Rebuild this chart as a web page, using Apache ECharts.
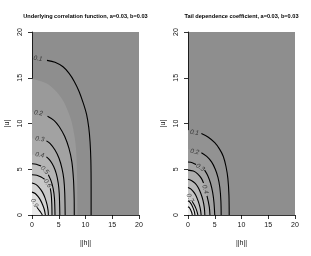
<!DOCTYPE html>
<html><head><meta charset="utf-8">
<script src="https://cdn.jsdelivr.net/npm/echarts@6/dist/echarts.min.js"></script>
<style>html,body{margin:0;padding:0;background:#fff}#c{width:311px;height:256px}</style>
</head><body><div id="c"></div>
<script>
// ---------- data ----------
const titles = ['Underlying correlation function, a=0.03, b=0.03', 'Tail dependence coefficient, a=0.03, b=0.03'];
const xName = '||h||';
const yName = '|u|';
const axisRange = [0, 20];
const axisStep = 5;
const levels = ['0.1','0.2','0.3','0.4','0.5','0.6','0.7','0.8','0.9'];

// left panel contour lines ([||h||, |u|]; null = gap under a label)
const L01 = [[0,17.3],null,[2.8,16.9],[4.3,16.7],[5.8,16.2],[6.9,15.5],[7.9,14.6],[8.8,13.5],[9.6,12.2],[10.2,11.0],[10.6,9.6],[10.85,8.0],[11.0,6.0],[11.05,3.0],[11.05,0]];
const L02 = [[0,11.3],null,[2.9,10.8],[4.1,10.35],[5.1,9.65],[6.1,8.6],[6.9,7.3],[7.45,5.8],[7.75,3.9],[7.88,1.8],[7.9,0]];
const L03 = [[0,8.4],null,[2.7,8.1],[3.4,7.8],[4.3,7.1],[5.05,6.2],[5.6,5.1],[5.95,3.9],[6.12,2.4],[6.2,0]];
const L04 = [[0,6.6],null,[2.7,6.35],[3.4,5.95],[4.05,5.3],[4.55,4.5],[4.9,3.5],[5.1,2.3],[5.2,0]];
const L05 = [[0,5.6],[0.8,5.55],[1.7,5.35],null,[3.05,4.4],[3.55,3.75],[3.95,2.9],[4.2,1.8],[4.3,0]];
const L06 = [[0,4.4],[0.9,4.35],[1.7,4.15],[2.35,3.9],null,[3.42,2.9],[3.6,2.2],[3.7,1.2],[3.74,0]];
const L07 = [[0,3.5],[0.7,3.35],[1.35,3.0],[1.95,2.5],[2.45,1.85],[2.8,1.15],[3.0,0.5],[3.06,0]];
const L08 = [[0,2.5],[0.6,2.35],[1.15,2.0],[1.6,1.6],[2.0,1.1],[2.3,0.6],[2.5,0]];
const L09 = [[0,1.75],null,[0.9,0.85],[1.3,0.55],[1.65,0.28],[1.94,0]];
const leftShade = [[0,14.9],[3,14.3],[5.5,12.8],[7.2,10.6],[8.1,8.0],[8.4,5.0],[8.5,0]];
const leftLabelText = ['0.1','0.2','0.3','0.4','0.5','0.6','0.9'];
const leftLabelPos = [[1.1,17.1],[1.2,11.15],[1.45,8.3],[1.45,6.55],[2.37,4.9],[2.9,3.45],[0.45,1.3]];

// right panel contour lines
const R01 = [[0,9.3],null,[2.5,8.9],[3.8,8.5],[5.0,7.9],[5.9,7.2],[6.6,6.4],[7.1,5.3],[7.45,4.0],[7.65,2.2],[7.7,0]];
const R02 = [[0,7.2],null,[2.5,6.8],[3.5,6.4],[4.4,5.8],[5.1,5.0],[5.6,4.1],[5.95,3.0],[6.15,1.5],[6.2,0]];
const R03 = [[0,5.8],[0.8,5.72],[1.5,5.52],null,[3.1,4.9],[3.7,4.3],[4.2,3.5],[4.6,2.5],[4.85,1.4],[5.0,0]];
const R04 = [[0,4.9],[1.0,4.8],[1.8,4.5],[2.5,4.0],[2.9,3.5],null,[3.55,2.1],[3.8,1.45],[4.0,0.8],[4.1,0]];
const R05 = [[0,3.9],[0.7,3.75],[1.35,3.45],[1.9,3.0],[2.4,2.35],[2.8,1.6],[3.05,0.8],[3.15,0]];
const R06 = [[0,3.0],[0.5,2.85],[1.0,2.55],[1.45,2.15],[1.85,1.6],[2.15,1.05],[2.35,0.5],[2.45,0]];
const R07 = [[0,2.25],null,[0.75,1.5],[1.15,1.12],[1.45,0.75],[1.7,0.35],[1.85,0]];
const R08 = [[0,1.55],[0.35,1.4],[0.7,1.1],[1.0,0.7],[1.2,0.35],[1.3,0]];
const R09 = [[0,0.9],[0.25,0.8],[0.5,0.55],[0.68,0.3],[0.8,0]];
const rightLabelText = ['0.1','0.2','0.3','0.4','0.7'];
const rightLabelPos = [[1.2,9.0],[1.25,6.9],[2.3,5.2],[3.22,2.8],[0.38,1.87]];

// ---------- styles ----------
const baseGray = '#8e8e8e';
const leftShadeColor = '#9a9a9a';
const leftFill = [null,'#a2a2a2','#aaaaaa','#b4b4b4','#bebebe','#c8c8c8','#d3d3d3','#dedede','#eaeaea'];
const rightFill = ['#929292','#9a9a9a','#a4a4a4','#aeaeae','#b9b9b9','#c5c5c5','#d2d2d2','#dfdfdf','#ececec'];
const leftLabelRot = [-8,-8,-8,-10,-45,-55,-60];
const rightLabelRot = [-8,-10,-34,-75,-62];
const FONT = '"Liberation Sans", Arial, Helvetica, sans-serif';
const gridBox = [{left:32, top:32, width:107, height:183},{left:188, top:32, width:107, height:183}];

const panels = [
  {contours:[L01,L02,L03,L04,L05,L06,L07,L08,L09], fills:leftFill, shade:leftShade, labText:leftLabelText, labPos:leftLabelPos, labRot:leftLabelRot},
  {contours:[R01,R02,R03,R04,R05,R06,R07,R08,R09], fills:rightFill, shade:null, labText:rightLabelText, labPos:rightLabelPos, labRot:rightLabelRot}
];

function segments(pts){
  const out=[]; let cur=[];
  pts.forEach(p=>{ if(p===null){ if(cur.length) out.push(cur); cur=[]; } else cur.push(p); });
  if(cur.length) out.push(cur);
  return out.filter(s=>s.length>1);
}

const series=[]; const xAxis=[]; const yAxis=[]; const grid=[];
panels.forEach((pn,p)=>{
  grid.push(Object.assign({show:true, backgroundColor:baseGray, borderWidth:0, containLabel:false}, gridBox[p]));
  const axBase = {gridIndex:p, type:'value', min:axisRange[0], max:axisRange[1], interval:axisStep,
    splitLine:{show:false},
    axisLine:{show:true, onZero:false, lineStyle:{color:'#000', width:0.8}},
    axisTick:{show:true, length:4, lineStyle:{color:'#000', width:0.8}}};
  xAxis.push(Object.assign({}, axBase, {axisLabel:{fontSize:7, color:'#111', margin:7, fontFamily:FONT}}));
  yAxis.push(Object.assign({}, axBase, {axisLabel:{fontSize:7, color:'#111', margin:8, rotate:90, fontFamily:FONT}}));
  const fillBase = {type:'line', xAxisIndex:p, yAxisIndex:p, symbol:'none', silent:true, animation:false,
    lineStyle:{width:0, opacity:0}, z:1};
  if(pn.shade) series.push(Object.assign({}, fillBase, {data:pn.shade, smooth:0.3, areaStyle:{color:leftShadeColor, opacity:1}}));
  pn.contours.forEach((c,i)=>{
    if(pn.fills[i]) series.push(Object.assign({}, fillBase, {data:c.filter(q=>q!==null), areaStyle:{color:pn.fills[i], opacity:1}}));
  });
  pn.contours.forEach(c=>{
    segments(c).forEach(seg=>{
      series.push({type:'line', xAxisIndex:p, yAxisIndex:p, symbol:'none', silent:true, animation:false, z:3,
        data:seg, smooth:0.3, lineStyle:{color:'#000', width:1.1}});
    });
  });
  series.push({type:'scatter', xAxisIndex:p, yAxisIndex:p, symbolSize:0, silent:true, animation:false, z:4,
    data: pn.labPos.map((pos,i)=>({value:pos, label:{rotate:pn.labRot[i], formatter:pn.labText[i]}})),
    label:{show:true, position:'inside', fontSize:6.5, fontStyle:'italic', color:'#1a1a1a', fontFamily:FONT}});
});

const graphic=[];
gridBox.forEach((g,p)=>{
  const cx = g.left + g.width/2;
  graphic.push({type:'text', x:cx, y:16, style:{text:titles[p], align:'center', verticalAlign:'middle', fontSize:5.6, fontWeight:'bold', fontFamily:FONT, fill:'#000'}});
  graphic.push({type:'text', x:cx, y:243, style:{text:xName, align:'center', verticalAlign:'middle', fontSize:7, fontFamily:FONT, fill:'#111'}});
  graphic.push({type:'text', x:g.left-25, y:g.top+g.height/2, rotation:Math.PI/2, style:{text:yName, align:'center', verticalAlign:'middle', fontSize:7, fontFamily:FONT, fill:'#111'}});
});

const chart = echarts.init(document.getElementById('c'), null, {renderer:'canvas'});
chart.setOption({animation:false, grid, xAxis, yAxis, series, graphic});
</script></body></html>
